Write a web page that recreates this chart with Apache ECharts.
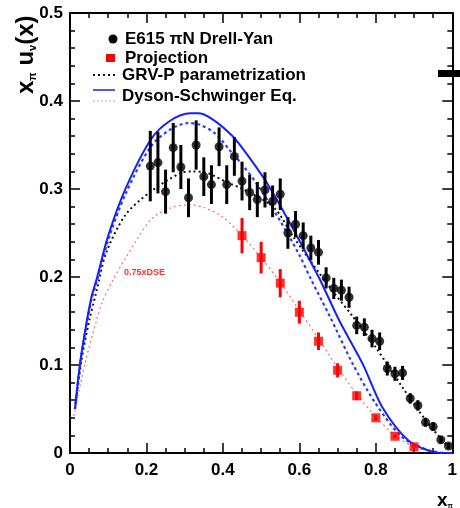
<!DOCTYPE html>
<html>
<head>
<meta charset="utf-8">
<script src="https://cdn.jsdelivr.net/npm/echarts@6/dist/echarts.min.js"></script>
<style>
html,body{margin:0;padding:0;background:#fff;}
#chart{width:460px;height:508px;}
</style>
</head>
<body>
<div id="chart"></div>
<script>
// ---- data ----
const e615X = [0.21,0.23,0.25,0.27,0.29,0.31,0.33,0.35,0.37,0.39,0.41,0.43,0.45,0.47,0.49,0.51,0.53,0.55,0.57,0.59,0.61,0.63,0.65,0.67,0.69,0.71,0.73,0.75,0.77,0.79,0.81,0.83,0.85,0.87,0.89,0.91,0.93,0.95,0.97,0.99];
const e615Y = [0.326,0.330,0.297,0.347,0.325,0.290,0.350,0.314,0.305,0.348,0.305,0.337,0.309,0.296,0.288,0.299,0.286,0.294,0.250,0.260,0.247,0.233,0.228,0.199,0.187,0.185,0.177,0.145,0.143,0.130,0.127,0.096,0.090,0.091,0.062,0.054,0.035,0.030,0.015,0.008];
const e615Err = [0.040,0.035,0.025,0.028,0.025,0.022,0.028,0.022,0.022,0.022,0.022,0.022,0.022,0.020,0.020,0.020,0.018,0.018,0.018,0.015,0.015,0.014,0.014,0.012,0.012,0.012,0.012,0.010,0.010,0.010,0.010,0.008,0.008,0.008,0.006,0.006,0.005,0.005,0.004,0.003];

const projX = [0.45,0.50,0.55,0.60,0.65,0.70,0.75,0.80,0.85,0.90];
const projY = [0.247,0.222,0.193,0.160,0.127,0.094,0.065,0.040,0.019,0.007];
const projErr = [0.020,0.018,0.016,0.013,0.010,0.008,0.005,0.003,0.002,0.001];

const grvX = [0.013,0.03,0.05,0.07,0.095,0.146,0.211,0.288,0.32,0.36,0.413,0.447,0.533,0.585,0.68,0.74,0.80,0.869,0.938,0.998];
const grvY = [0.050,0.105,0.150,0.185,0.228,0.271,0.297,0.318,0.320,0.318,0.307,0.301,0.279,0.245,0.188,0.155,0.120,0.075,0.033,0.003];

const dseX = [0.013,0.026,0.04,0.056,0.07,0.10,0.146,0.211,0.26,0.315,0.335,0.37,0.421,0.45,0.512,0.568,0.62,0.655,0.705,0.766,0.817,0.886,0.955,1.0];
const dseY = [0.050,0.101,0.140,0.177,0.198,0.247,0.301,0.356,0.377,0.386,0.386,0.380,0.362,0.347,0.309,0.267,0.225,0.196,0.150,0.101,0.052,0.014,0.001,0.0];

const dseDotX = [0.013,0.026,0.04,0.056,0.07,0.10,0.146,0.211,0.26,0.31,0.34,0.38,0.42,0.45,0.49,0.548,0.60,0.632,0.68,0.74,0.80,0.869,0.938,0.98];
const dseDotY = [0.050,0.099,0.138,0.174,0.195,0.242,0.295,0.348,0.367,0.375,0.373,0.363,0.343,0.328,0.305,0.265,0.225,0.196,0.155,0.101,0.056,0.018,0.003,0.0];

const dse75X = [0.01,0.039,0.069,0.086,0.112,0.146,0.211,0.26,0.31,0.35,0.40,0.45,0.50,0.55,0.60,0.65,0.70,0.75,0.80,0.85,0.90,0.95,0.98];
const dse75Y = [0.042,0.101,0.150,0.173,0.196,0.222,0.265,0.278,0.282,0.279,0.268,0.247,0.222,0.194,0.162,0.130,0.097,0.067,0.041,0.020,0.007,0.001,0.0];

const xTicks = {min:0, max:1, interval:0.2};
const yTicks = {min:0, max:0.5, interval:0.1};

// ---- chart ----
const FONT = 'Liberation Sans, Arial, Helvetica, sans-serif';
const zip = (xs, ys) => xs.map((x,i)=>[x, ys[i]]);
const zip3 = (xs, ys, es) => xs.map((x,i)=>[x, ys[i], es[i]]);

function errBar(color, width){
  return function(params, api){
    const x = api.value(0), y = api.value(1), e = api.value(2);
    const p1 = api.coord([x, y - e]);
    const p2 = api.coord([x, y + e]);
    return {type:'line', shape:{x1:p1[0], y1:p1[1], x2:p2[0], y2:p2[1]},
            style:{stroke:color, lineWidth:width}};
  };
}

const lineAxis = {show:true, onZero:false, lineStyle:{color:'#000', width:2}};
const majorTick = {show:true, inside:true, length:10, lineStyle:{color:'#000', width:1.5}};
const labelStyle = {color:'#000', fontFamily:FONT, fontWeight:'bold', fontSize:17,
  formatter:v=>String(Math.round(v*10)/10)};

const chart = echarts.init(document.getElementById('chart'), null, {renderer:'canvas'});
chart.setOption({
  animation:false,
  backgroundColor:'#fff',
  grid:{left:70, right:2, top:13, bottom:55, containLabel:false},
  xAxis:[
    {type:'value', position:'bottom', min:xTicks.min, max:xTicks.max, interval:xTicks.interval,
      axisLine:lineAxis, axisTick:majorTick, splitLine:{show:false},
      minorTick:{show:true, splitNumber:4, length:5, lineStyle:{color:'#000', width:1.5}},
      axisLabel:Object.assign({show:true, margin:9}, labelStyle)},
    {type:'value', position:'top', min:xTicks.min, max:xTicks.max, interval:xTicks.interval,
      axisLine:lineAxis, axisTick:majorTick, splitLine:{show:false},
      minorTick:{show:true, splitNumber:4, length:5, lineStyle:{color:'#000', width:1.5}},
      axisLabel:{show:false}}
  ],
  yAxis:[
    {type:'value', position:'left', min:yTicks.min, max:yTicks.max, interval:yTicks.interval,
      axisLine:lineAxis, axisTick:majorTick, splitLine:{show:false},
      minorTick:{show:true, splitNumber:5, length:5, lineStyle:{color:'#000', width:1.5}},
      axisLabel:Object.assign({show:true, margin:7}, labelStyle)},
    {type:'value', position:'right', min:yTicks.min, max:yTicks.max, interval:yTicks.interval,
      axisLine:lineAxis, axisTick:majorTick, splitLine:{show:false},
      minorTick:{show:true, splitNumber:5, length:5, lineStyle:{color:'#000', width:1.5}},
      axisLabel:{show:false}}
  ],
  series:[
    {name:'0.75xDSE', type:'line', data:zip(dse75X, dse75Y), smooth:0.3, showSymbol:false, symbol:'none',
      lineStyle:{color:'#ff6b6b', width:1.2, type:[2,3]}, z:1},
    {name:'GRV-P parametrization', type:'line', data:zip(grvX, grvY), smooth:0.3, showSymbol:false, symbol:'none',
      lineStyle:{color:'#111', width:2, type:[2,3]}, z:2},
    {name:'DSE dotted', type:'line', data:zip(dseDotX, dseDotY), smooth:0.3, showSymbol:false, symbol:'none',
      lineStyle:{color:'#2a3cff', width:2.2, type:[3,3]}, z:3},
    {name:'Dyson-Schwinger Eq.', type:'line', data:zip(dseX, dseY), smooth:0.3, showSymbol:false, symbol:'none',
      lineStyle:{color:'#1520ff', width:2}, z:4},
    {name:'E615 err', type:'custom', renderItem:errBar('#000', 3), data:zip3(e615X, e615Y, e615Err), z:5, silent:true},
    {name:'Projection err', type:'custom', renderItem:errBar('#ff0000', 3), data:zip3(projX, projY, projErr), z:5, silent:true},
    {name:'E615 πN Drell-Yan', type:'scatter', data:zip(e615X, e615Y), symbol:'circle', symbolSize:9,
      itemStyle:{color:'#000'}, z:6},
    {name:'Projection', type:'scatter', data:zip(projX, projY), symbol:'rect', symbolSize:[9,9],
      itemStyle:{color:'#ff0000'}, z:6}
  ],
  graphic:[
    // legend
    {type:'circle', shape:{cx:113, cy:39, r:4.5}, style:{fill:'#000'}, z:100},
    {type:'text', x:125, y:39, style:{text:'E615 πN Drell-Yan', font:'bold 17px '+FONT, fill:'#000', textVerticalAlign:'middle'}, z:100},
    {type:'rect', shape:{x:106, y:54, width:9, height:8}, style:{fill:'#ff0000'}, z:100},
    {type:'text', x:125, y:58, style:{text:'Projection', font:'bold 17px '+FONT, fill:'#000', textVerticalAlign:'middle'}, z:100},
    {type:'line', shape:{x1:93, y1:75, x2:115, y2:75}, style:{stroke:'#111', lineWidth:2, lineDash:[2,3]}, z:100},
    {type:'text', x:122, y:75, style:{text:'GRV-P parametrization', font:'bold 17px '+FONT, fill:'#000', textVerticalAlign:'middle'}, z:100},
    {type:'line', shape:{x1:93, y1:90, x2:115, y2:90}, style:{stroke:'#1520ff', lineWidth:1.5}, z:100},
    {type:'line', shape:{x1:93, y1:101, x2:115, y2:101}, style:{stroke:'#9aa4ff', lineWidth:1, lineDash:[2,2]}, z:100},
    {type:'text', x:122, y:96, style:{text:'Dyson-Schwinger Eq.', font:'bold 17px '+FONT, fill:'#000', textVerticalAlign:'middle'}, z:100},
    // curve label
    {type:'text', x:124, y:273, style:{text:'0.75xDSE', font:'bold 9px '+FONT, fill:'#ff3030', textVerticalAlign:'middle'}, z:100},
    // black bar on right
    {type:'rect', shape:{x:438, y:70, width:22, height:7}, style:{fill:'#000'}, z:100},
    // y-axis title
    {type:'text', x:38, y:94, rotation:Math.PI/2,
      style:{text:'{b|x}{s|π}{b| u}{s|v}{b|(x)}', fill:'#000',
        rich:{b:{font:'bold 24px '+FONT, fill:'#000'}, s:{font:'bold 11px '+FONT, fill:'#000', verticalAlign:'bottom', padding:[9,0,0,0]}},
        textVerticalAlign:'bottom'}, z:100},
    // x-axis title
    {type:'text', x:437, y:491,
      style:{text:'{b|x}{s|π}', fill:'#000',
        rich:{b:{font:'bold 19px '+FONT, fill:'#000'}, s:{font:'bold 7px '+FONT, fill:'#000', verticalAlign:'bottom', padding:[6,0,0,0]}}}, z:100}
  ]
});
</script>
</body>
</html>
